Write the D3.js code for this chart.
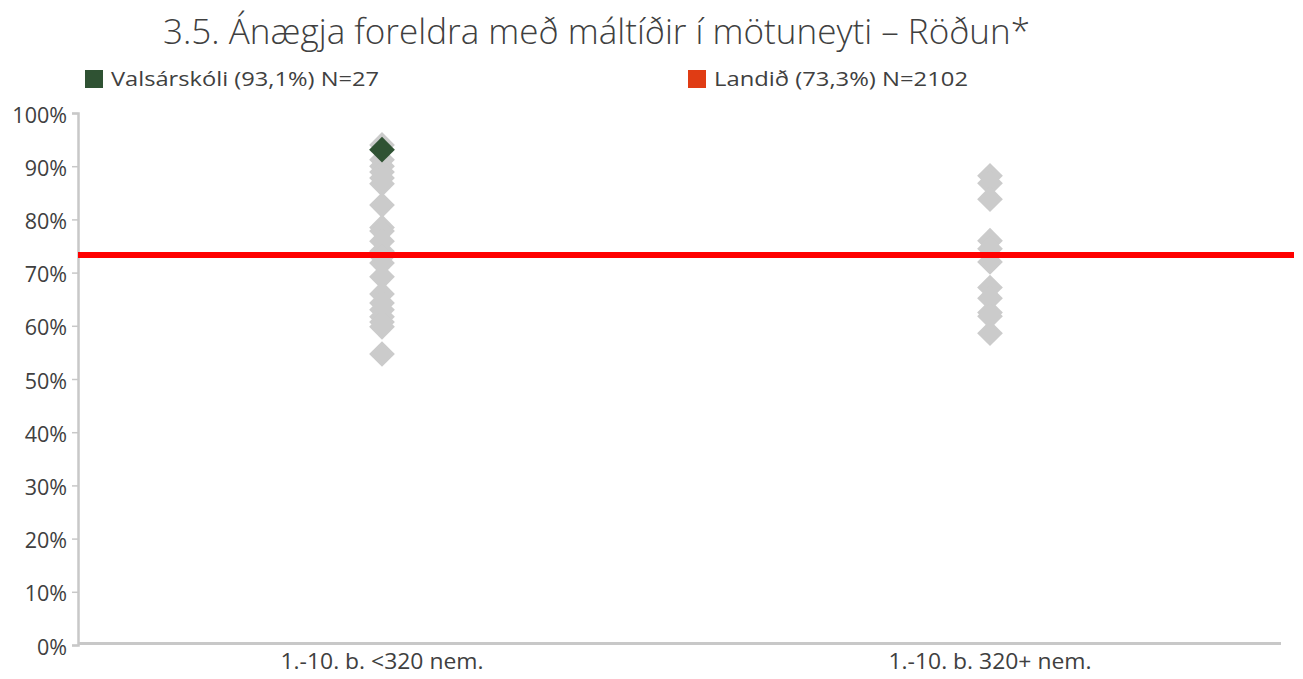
<!DOCTYPE html>
<html>
<head>
<meta charset="utf-8">
<script src="https://cdn.jsdelivr.net/npm/d3@7"></script>
<style>
  body { margin: 0; background: #fff; }
  svg { display: block; }
  text { font-family: "Open Sans", "Noto Sans", sans-serif; fill: #404040; }
</style>
</head>
<body>
<svg id="chart" width="1303" height="679"></svg>
<script>
// Categories (school size groups)
const categories = ["1.-10. b. <320 nem.", "1.-10. b. 320+ nem."];

// Other schools' scores, per category (%)
const smallSchools = [94.0, 91.2, 90.0, 88.9, 87.8, 86.7, 82.7, 78.5, 77.8, 75.9, 74.0,
                      73.0, 71.8, 69.2, 66.0, 64.3, 63.0, 61.7, 60.7, 59.8, 54.7];
const largeSchools = [88.2, 86.8, 83.8, 76.0, 74.5, 72.0, 67.2, 65.2, 62.5, 61.8, 58.6];

// Highlighted school and national average
const schoolName = "Valsárskóli";
const schoolValue = 93.1;
const schoolN = 27;
const schoolCategory = categories[0];
const nationalValue = 73.3;
const nationalN = 2102;

const yTicks = [0, 10, 20, 30, 40, 50, 60, 70, 80, 90, 100];

const svg = d3.select("#chart");
const plotLeft = 78, plotRight = 1294, plotTop = 113, plotBottom = 645;
const fontStack = "'Open Sans', 'Noto Sans', sans-serif";

const x = d3.scaleBand().domain(categories).range([plotLeft, plotRight]);
const y = d3.scaleLinear().domain([0, 100]).range([plotBottom, plotTop]);

// Title
svg.append("text")
  .attr("x", 163).attr("y", 44)
  .attr("textLength", 867).attr("lengthAdjust", "spacingAndGlyphs")
  .style("font-size", "34px")
  .style("font-weight", 300)
  .text("3.5. Ánægja foreldra með máltíðir í mötuneyti – Röðun*");

// Legend
const legend = [
  { label: `${schoolName} (${String(schoolValue).replace(".", ",")}%) N=${schoolN}`, color: "#2f5233", x: 85, w: 268 },
  { label: `Landið (${String(nationalValue).replace(".", ",")}%) N=${nationalN}`, color: "#e03c14", x: 688, w: 254 }
];
const lg = svg.append("g");
lg.selectAll("rect").data(legend).join("rect")
  .attr("x", d => d.x).attr("y", 70).attr("width", 18).attr("height", 18)
  .attr("fill", d => d.color);
lg.selectAll("text").data(legend).join("text")
  .attr("x", d => d.x + 26).attr("y", 86)
  .attr("textLength", d => d.w).attr("lengthAdjust", "spacingAndGlyphs")
  .style("font-size", "20px")
  .text(d => d.label);

// Y axis
const yAxis = svg.append("g")
  .attr("transform", `translate(${plotLeft},0)`)
  .call(d3.axisLeft(y).tickValues(yTicks).tickFormat(d => d + "%").tickSize(6).tickPadding(5));
yAxis.select(".domain").attr("stroke", "#c8c8c8").attr("stroke-width", 2.5);
yAxis.selectAll(".tick line").attr("stroke", "#c8c8c8").attr("stroke-width", 1.5);
yAxis.selectAll(".tick text")
  .attr("dy", "0.42em")
  .style("font-size", "21.5px")
  .style("font-family", fontStack)
  .attr("fill", "#404040");

// X axis
const xAxis = svg.append("g")
  .attr("transform", `translate(0,${plotBottom - 1.5})`)
  .call(d3.axisBottom(x).tickSize(0).tickPadding(11));
xAxis.select(".domain").attr("stroke", "#c8c8c8").attr("stroke-width", 3)
  .attr("d", `M${plotLeft},0H1281`);
xAxis.selectAll(".tick text")
  .attr("textLength", 203).attr("lengthAdjust", "spacingAndGlyphs")
  .attr("x", -101.5).attr("text-anchor", "start")
  .style("font-size", "21px")
  .style("font-family", fontStack)
  .attr("fill", "#404040");

// Diamonds for all schools
const diamond = d3.symbol().type(d3.symbolSquare).size(18.2 * 18.2);
const points = [
  ...smallSchools.map(v => ({ cat: categories[0], v })),
  ...largeSchools.map(v => ({ cat: categories[1], v }))
];
svg.append("g").selectAll("path").data(points).join("path")
  .attr("d", diamond)
  .attr("transform", d => `translate(${x(d.cat) + x.bandwidth() / 2},${y(d.v)}) rotate(45)`)
  .attr("fill", "#cbcbcb");

// National average line
svg.append("line")
  .attr("x1", plotLeft).attr("x2", plotRight)
  .attr("y1", y(nationalValue)).attr("y2", y(nationalValue))
  .attr("stroke", "#ff0000").attr("stroke-width", 6);

// Highlighted school
svg.append("path")
  .attr("d", diamond)
  .attr("transform", `translate(${x(schoolCategory) + x.bandwidth() / 2},${y(schoolValue)}) rotate(45)`)
  .attr("fill", "#2f5233");
</script>
</body>
</html>
